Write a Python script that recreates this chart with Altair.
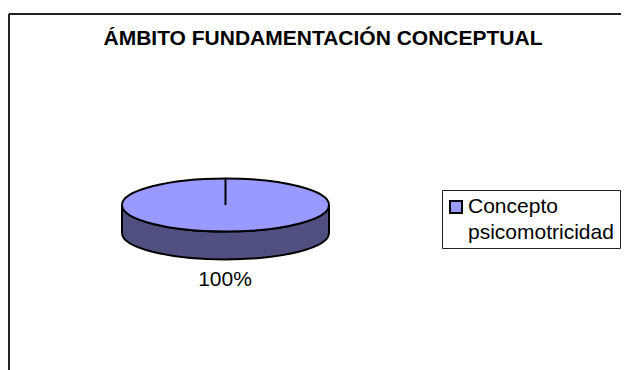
import altair as alt
import pandas as pd

title_text = ["ÁMBITO FUNDAMENTACIÓN CONCEPTUAL"]
categories = ["Concepto psicomotricidad"]
values = [100]
pct_labels = ["100%"]
legend_lines = ["Concepto", "psicomotricidad"]

TOP = "#9999ff"
SIDE = "#4f4f80"
W, H = 613, 362
ox, oy = 8, 8

r = 0.256
d = 0.27
side_path = f"M-1 0 L-1 {d} A1 {r} 0 0 0 1 {d} L1 0 A1 {r} 0 0 1 -1 0 Z"
top_path = f"M-1 0 A1 {r} 0 1 1 1 0 A1 {r} 0 1 1 -1 0 Z"
radius_path = f"M0 0 L0 {-r}"
pie_w = 207

data = pd.DataFrame({"category": categories, "value": values, "label": pct_labels})
cx, cy = 225.5 - ox, 205 - oy


def ellipse(path, fill):
    return alt.Chart(data).mark_point(
        shape=path, size=pie_w ** 2, filled=True, fill=fill, stroke="black",
        strokeWidth=2, opacity=1, fillOpacity=1, strokeOpacity=1,
    ).encode(x=alt.value(cx), y=alt.value(cy))


frame_top = alt.Chart(data).mark_rule(stroke="#222222", strokeWidth=2).encode(
    x=alt.value(1), x2=alt.value(W), y=alt.value(14 - oy)
)
frame_left = alt.Chart(data).mark_rule(stroke="#222222", strokeWidth=2).encode(
    x=alt.value(1), y=alt.value(14 - oy), y2=alt.value(H)
)
title = alt.Chart(pd.DataFrame({"t": title_text})).mark_text(
    font="Liberation Sans", fontWeight="bold", fontSize=21, align="center", baseline="alphabetic", color="black"
).encode(text="t:N", x=alt.value(323 - ox), y=alt.value(45 - oy))
pct = alt.Chart(data).mark_text(
    font="Liberation Sans", fontSize=21, align="center", baseline="alphabetic", color="black"
).encode(text="label:N", x=alt.value(225 - ox), y=alt.value(286 - oy))
legend_box = alt.Chart(data).mark_rect(fill="white", stroke="#222222", strokeWidth=1).encode(
    x=alt.value(442.5 - ox), x2=alt.value(620.5 - ox), y=alt.value(190.5 - oy), y2=alt.value(248.5 - oy)
)
swatch = alt.Chart(data).mark_rect(fill=TOP, stroke="black", strokeWidth=2).encode(
    x=alt.value(450 - ox), x2=alt.value(462 - ox), y=alt.value(201 - oy), y2=alt.value(213 - oy)
)
leg1 = alt.Chart(pd.DataFrame({"t": legend_lines[:1]})).mark_text(
    font="Liberation Sans", fontSize=21, align="left", baseline="alphabetic", color="black"
).encode(text="t:N", x=alt.value(468 - ox), y=alt.value(213 - oy))
leg2 = alt.Chart(pd.DataFrame({"t": legend_lines[1:]})).mark_text(
    font="Liberation Sans", fontSize=21, align="left", baseline="alphabetic", color="black"
).encode(text="t:N", x=alt.value(468 - ox), y=alt.value(239 - oy))

chart = alt.layer(
    frame_top, frame_left, title, ellipse(side_path, SIDE), ellipse(top_path, TOP), ellipse(radius_path, TOP),
    pct, legend_box, swatch, leg1, leg2,
).properties(
    width=W, height=H, padding=0, background="white", autosize=alt.AutoSizeParams(type="none")
).configure_view(stroke=None, clip=False)

chart.save("out.html", embed_options={"renderer": "svg", "actions": False})
